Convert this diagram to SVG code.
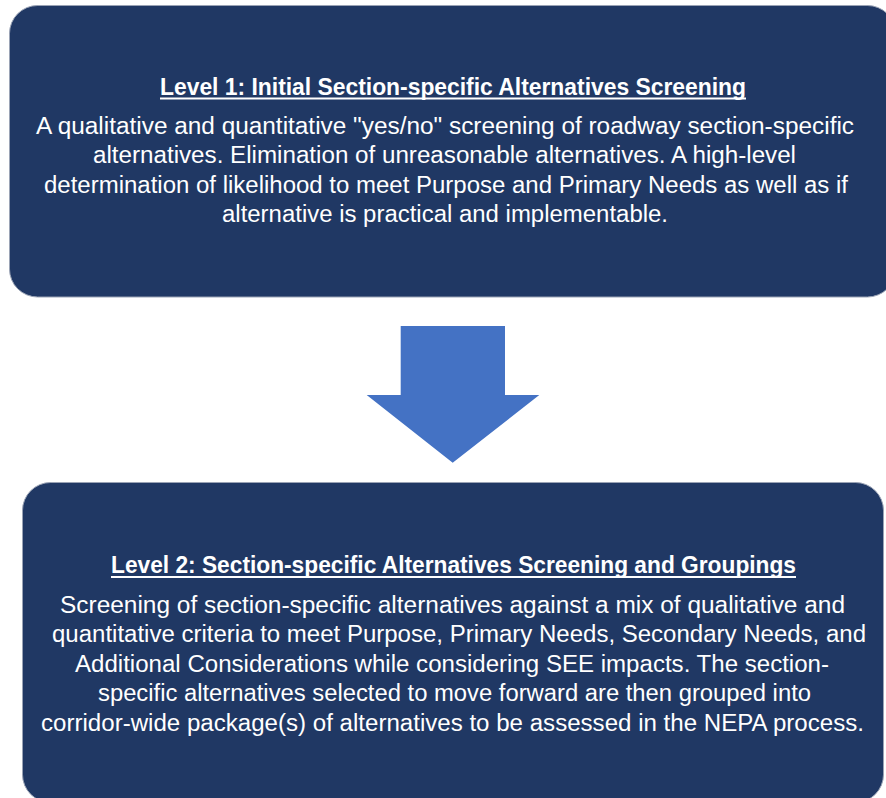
<svg xmlns="http://www.w3.org/2000/svg" width="886" height="798" viewBox="0 0 886 798">
  <style>
    .box { fill: #203864; stroke: #9aa3b5; stroke-width: 1; }
    .title { font-family: "Liberation Sans", Arial, sans-serif; font-weight: bold; font-size: 23px; fill: #ffffff; }
    .body { font-family: "Liberation Sans", Arial, sans-serif; font-size: 23px; fill: #ffffff; }
    .rule { stroke: #ffffff; stroke-width: 2; }
    .flow { fill: #4472C4; }
  </style>
  <rect width="886" height="798" fill="#ffffff"/>

  <!-- Level 1 box -->
  <g id="level1">
    <rect class="box" x="9.5" y="5.5" width="886" height="291.5" rx="28" ry="28"/>
    <text class="title" x="160" y="95" textLength="586" lengthAdjust="spacingAndGlyphs">Level 1: Initial Section-specific Alternatives Screening</text>
    <line class="rule" x1="160" y1="98.5" x2="746" y2="98.5"/>
    <text class="body" x="36" y="134" textLength="818" lengthAdjust="spacingAndGlyphs">A qualitative and quantitative "yes/no" screening of roadway section-specific</text>
    <text class="body" x="93" y="163.3" textLength="703" lengthAdjust="spacingAndGlyphs">alternatives. Elimination of unreasonable alternatives. A high-level</text>
    <text class="body" x="44" y="192.6" textLength="804" lengthAdjust="spacingAndGlyphs">determination of likelihood to meet Purpose and Primary Needs as well as if</text>
    <text class="body" x="222" y="222" textLength="446" lengthAdjust="spacingAndGlyphs">alternative is practical and implementable.</text>
  </g>

  <!-- Connectors -->
  <g id="connectors">
    <polygon class="flow" points="400.7,326 505,326 505,395 539.3,395 452.7,462.7 366.7,395 400.7,395"/>
  </g>

  <!-- Level 2 box -->
  <g id="level2">
    <rect class="box" x="22.5" y="482.5" width="861" height="320" rx="28" ry="28"/>
    <text class="title" x="111" y="573" textLength="685" lengthAdjust="spacingAndGlyphs">Level 2: Section-specific Alternatives Screening and Groupings</text>
    <line class="rule" x1="111" y1="577" x2="796" y2="577"/>
    <text class="body" x="60" y="613" textLength="785" lengthAdjust="spacingAndGlyphs">Screening of section-specific alternatives against a mix of qualitative and</text>
    <text class="body" x="52" y="642.4" textLength="814" lengthAdjust="spacingAndGlyphs">quantitative criteria to meet Purpose, Primary Needs, Secondary Needs, and</text>
    <text class="body" x="75" y="671.8" textLength="754" lengthAdjust="spacingAndGlyphs">Additional Considerations while considering SEE impacts. The section-</text>
    <text class="body" x="98" y="701.2" textLength="713" lengthAdjust="spacingAndGlyphs">specific alternatives selected to move forward are then grouped into</text>
    <text class="body" x="41" y="730.6" textLength="823" lengthAdjust="spacingAndGlyphs">corridor-wide package(s) of alternatives to be assessed in the NEPA process.</text>
  </g>
</svg>
